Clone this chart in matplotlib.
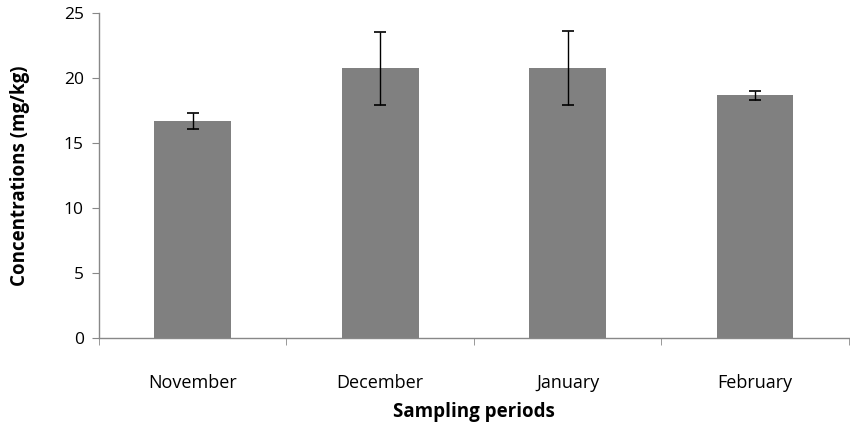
import matplotlib
matplotlib.use("Agg")
import matplotlib.pyplot as plt
import numpy as np

periods = ["November", "December", "January", "February"]
conc = [16.7, 20.75, 20.75, 18.65]
conc_err = [0.6, 2.8, 2.85, 0.35]

plt.rcParams['font.family'] = ['Open Sans', 'DejaVu Sans']

fig = plt.figure(figsize=(8.5, 4.24), dpi=100)
ax = fig.add_axes([0.1165, 0.203, 0.882, 0.7665])

x = np.arange(len(periods))
ax.bar(x, conc, width=0.41, color='#808080', zorder=2)
ax.errorbar(x, conc, yerr=conc_err, fmt='none', ecolor='black',
            elinewidth=1, capsize=4, capthick=1.2, zorder=3)

ax.set_xlim(-0.5, len(periods) - 0.5)
ax.set_ylim(0, 25)
ax.set_yticks(range(0, 26, 5))
ax.set_xticks(x)
ax.set_xticklabels(periods)
ax.set_xticks(np.arange(-0.5, len(periods)), minor=True)
ax.tick_params(axis='x', which='major', length=0, pad=26, labelsize=13)
ax.tick_params(axis='x', which='minor', length=5, color='#888888', direction='out')
ax.tick_params(axis='y', length=5, color='#888888', labelsize=12.5, pad=6)

for s in ['top', 'right']:
    ax.spines[s].set_visible(False)
for s in ['left', 'bottom']:
    ax.spines[s].set_color('#888888')
    ax.spines[s].set_linewidth(1)

ax.set_xlabel('Sampling periods', fontsize=13.5, fontweight='bold', labelpad=7)
ax.set_ylabel('Concentrations (mg/kg)', fontsize=13.5, fontweight='bold', labelpad=24)

fig.savefig('out.png', dpi=100)
